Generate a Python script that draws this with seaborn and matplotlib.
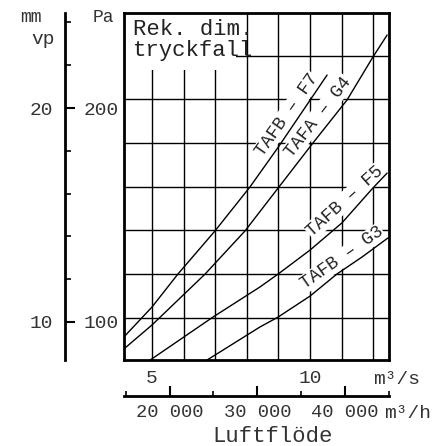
import matplotlib
matplotlib.use("Agg")
import matplotlib.pyplot as plt
from matplotlib.patches import Rectangle
import numpy as np
import pandas as pd
import seaborn as sns

# air flow (m3/s) and pressure drop (Pa)
f7_flow = [4.11, 5.0, 5.82, 6.99, 8.1, 9.0, 10.54]
f7_dp = [93.0, 107.0, 122.4, 142.5, 163.1, 181.8, 215.4]
g4_flow = [4.11, 5.0, 6.68, 7.94, 10.09, 11.17, 11.99, 12.44]
g4_dp = [87.4, 98.6, 122.4, 142.5, 183.6, 203.7, 223.8, 234.1]
f5_flow = [4.94, 6.93, 8.42, 8.99, 10.0, 11.01, 11.99, 12.44]
f5_dp = [82.2, 102.3, 116.4, 122.4, 133.6, 146.3, 162.6, 169.6]
g3_flow = [6.74, 8.42, 8.99, 10.0, 10.85, 11.65, 12.47]
g3_dp = [82.2, 97.7, 102.3, 112.1, 122.4, 130.4, 139.3]
curve_names = ["TAFB – F7", "TAFA – G4", "TAFB – F5", "TAFB – G3"]

flow_ticks = [5, 10]
flow_grid = [5, 6, 7, 8, 9, 10, 11, 12]
pa_ticks = [100, 200]
pa_grid = [102, 122.4, 142.8, 163.2, 183.6, 204, 224.4]
mm_ticks = [10, 20]
mm_minor = [12, 14, 16, 18, 22, 24]
m3h_ticks = [20000, 30000, 40000]
m3h_labels = ["20 000", "30 000", "40 000"]
m3h_minor = [15000, 25000, 35000, 45000]

sns.set_style("white")
plt.rcParams["font.family"] = ["Liberation Mono", "DejaVu Sans"]

W, H = 444, 446
def box(x0, y0, x1, y1):
    return [x0 / W, 1 - y1 / H, (x1 - x0) / W, (y1 - y0) / H]

fig = plt.figure(figsize=(W / 100, H / 100), dpi=100)
ax = fig.add_axes(box(124, 13, 389, 360))

curves = zip([f7_flow, g4_flow, f5_flow, g3_flow], [f7_dp, g4_dp, f5_dp, g3_dp])
for flow, dp in curves:
    sns.lineplot(x=flow, y=dp, color="black", lw=1.0, sort=False,
                 estimator=None, ax=ax, zorder=4)

xmin, xmax = 4.114, 12.5
ax.set_xlim(xmin, xmax)
ax.set_ylim(82.24, 244.4)
ax.set_xticks(flow_ticks)
ax.set_xticks(flow_grid, minor=True)
ax.set_yticks(pa_ticks)
ax.set_yticks(pa_grid, minor=True)
ax.xaxis.remove_overlapping_locs = False
ax.xaxis.grid(True, which="minor", color="black", lw=1.0)
ax.yaxis.grid(True, which="minor", color="black", lw=1.0)
ax.set_axisbelow(True)
ax.tick_params(which="both", length=0, labelsize=14, colors="#333333")
ax.tick_params(axis="x", pad=7)
ax.tick_params(axis="y", pad=4)
ax.set_xlabel("")
ax.set_ylabel("")
for s in ax.spines.values():
    s.set_linewidth(2)
    s.set_color("black")

# white patch behind the title text
ax.add_patch(Rectangle((0, 0.836), 0.423, 0.164, transform=ax.transAxes,
                       facecolor="white", edgecolor="none", zorder=1))
ax.text(0.034, 0.982, "Rek. dim.\ntryckfall", transform=ax.transAxes,
        ha="left", va="top", fontsize=16, linespacing=1.0, zorder=3,
        color="#222222")

label_pos = [(9.27, 196.7, 55), (10.25, 195.8, 52), (11.11, 156.5, 42), (11.01, 129.9, 35)]
for name, (lx, ly, ang) in zip(curve_names, label_pos):
    ax.text(lx, ly, name, rotation=ang, rotation_mode="anchor", ha="center",
            va="center", fontsize=13, zorder=3, color="#222222",
            bbox=dict(facecolor="white", edgecolor="none", pad=0.5))

# mm water column scale
axm = fig.add_axes(box(65, 13, 66, 360))
axm.set_facecolor("none")
for k in ["top", "right", "bottom"]:
    axm.spines[k].set_visible(False)
axm.spines["left"].set_linewidth(2)
axm.spines["left"].set_color("black")
axm.set_ylim(8.224, 24.44)
axm.set_xticks([])
axm.set_yticks(mm_ticks)
axm.set_yticks(mm_minor, minor=True)
axm.tick_params(axis="y", which="major", direction="in", length=7, width=1.5,
                left=True, labelsize=14, pad=8.6, labelcolor="#333333", color="black")
axm.tick_params(axis="y", which="minor", direction="in", length=4, width=1.2,
                left=True, color="black")

# m3/h scale
axh = fig.add_axes(box(124, 395, 389, 396))
axh.set_facecolor("none")
for k in ["top", "right", "left"]:
    axh.spines[k].set_visible(False)
axh.spines["bottom"].set_linewidth(2)
axh.spines["bottom"].set_color("black")
axh.set_xlim(xmin * 3600, xmax * 3600)
axh.set_yticks([])
axh.set_xticks(m3h_ticks, m3h_labels)
axh.set_xticks(m3h_minor, minor=True)
axh.tick_params(axis="x", which="major", direction="in", length=7, width=1.5,
                bottom=True, labelsize=13.5, pad=6, labelcolor="#333333", color="black")
axh.tick_params(axis="x", which="minor", direction="in", length=3.5, width=1.2,
                bottom=True, color="black")

tc = "#333333"
fig.text(31 / W, 1 - 17 / H, "mm", ha="center", va="center", fontsize=13, color=tc)
fig.text(43 / W, 1 - 40 / H, "vp", ha="center", va="center", fontsize=14, color=tc)
fig.text(103 / W, 1 - 17 / H, "Pa", ha="center", va="center", fontsize=13, color=tc)
fig.text(397 / W, 1 - 380 / H, "m³/s", ha="center", va="center", fontsize=14, color=tc)
fig.text(408 / W, 1 - 413 / H, "m³/h", ha="center", va="center", fontsize=14, color=tc)
fig.text(273 / W, 1 - 436 / H, "Luftflöde", ha="center", va="center", fontsize=16, color=tc)

fig.savefig("out.png", dpi=100)
